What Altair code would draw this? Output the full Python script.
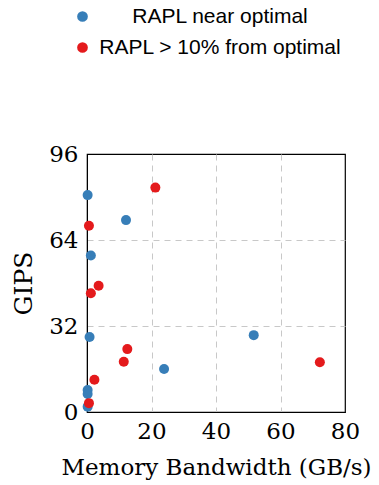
import altair as alt
import pandas as pd

# Memory bandwidth (GB/s) and throughput (GIPS) per run, split by RAPL result
near_bw = [0.2, 12.1, 1.2, 0.8, 51.7, 23.9, 0.2, 0.2, 0.2]
near_gips = [80.7, 71.4, 58.2, 27.9, 28.6, 16.0, 8.2, 6.7, 2.0]
far_bw = [21.2, 0.6, 3.6, 1.2, 12.5, 11.4, 72.2, 2.3, 0.6]
far_gips = [83.5, 69.3, 47.0, 44.2, 23.4, 18.7, 18.5, 12.0, 3.3]

series_names = ["RAPL near optimal", "RAPL > 10% from optimal"]
series_colors = ["#377eb8", "#e41a1c"]
x_ticks = [0, 20, 40, 60, 80]
y_ticks = [0, 32, 64, 96]

df = pd.concat([
    pd.DataFrame({"bw": near_bw, "gips": near_gips, "group": series_names[0]}),
    pd.DataFrame({"bw": far_bw, "gips": far_gips, "group": series_names[1]}),
])

serif = "DejaVu Serif"
sans = "Liberation Sans"

# hide the gridlines that would sit on top of the frame
x_grid_op = alt.ExprRef("datum.value > 0 && datum.value < 80 ? 1 : 0")
y_grid_op = alt.ExprRef("datum.value > 0 && datum.value < 96 ? 1 : 0")

chart = alt.Chart(df).mark_circle(size=100, opacity=1).encode(
    x=alt.X("bw:Q", title="Memory Bandwidth (GB/s)",
            scale=alt.Scale(domain=[0, 80], nice=False),
            axis=alt.Axis(values=x_ticks, format="d", grid=True, gridDash=[6, 5],
                          gridColor="#c8c8c8", gridOpacity=x_grid_op,
                          tickSize=0, labelPadding=8, labelFlush=False,
                          labelFont=serif, labelFontSize=23, labelColor="#000",
                          titleFont=serif, titleFontSize=23, titleFontWeight="normal",
                          titleColor="#000", titlePadding=13,
                          domainColor="#000")),
    y=alt.Y("gips:Q", title="GIPS",
            scale=alt.Scale(domain=[0, 96], nice=False),
            axis=alt.Axis(values=y_ticks, format="d", grid=True, gridDash=[6, 5],
                          gridColor="#c8c8c8", gridOpacity=y_grid_op,
                          tickSize=0, labelPadding=9, labelFlush=False,
                          labelFont=serif, labelFontSize=23, labelColor="#000",
                          titleFont=serif, titleFontSize=25, titleFontWeight="normal",
                          titleColor="#000", titleX=-51, titleY=129,
                          domainColor="#000")),
    color=alt.Color("group:N", sort=series_names,
                    scale=alt.Scale(domain=series_names, range=series_colors),
                    legend=alt.Legend(title=None, orient="none", legendX=-15, legendY=-148,
                                      symbolType="circle", symbolSize=115,
                                      symbolStrokeWidth=0, labelAlign="center",
                                      labelFont=sans, labelFontSize=21, labelColor="#000",
                                      labelLimit=400, rowPadding=9, labelOffset=127)),
).properties(
    width=258, height=258,
    autosize=alt.AutoSizeParams(type="none"),
    padding={"left": 87, "top": 154, "right": 34, "bottom": 73},
).configure_view(
    stroke="#000", strokeWidth=1.2
)

chart.save("out.html", embed_options={"renderer": "svg", "actions": False})
